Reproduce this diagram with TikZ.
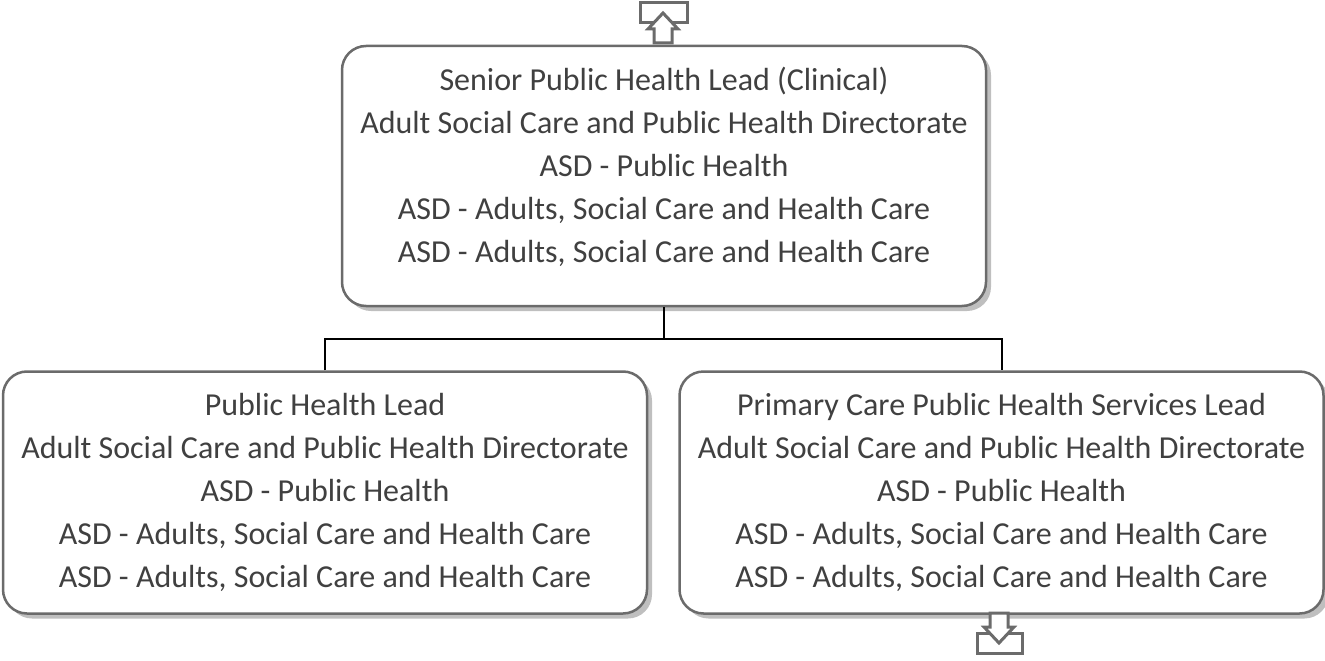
\documentclass[tikz,border=0pt]{standalone}
\usepackage{fontspec}
\setmainfont{Carlito}
\usepackage{tikz}
\usetikzlibrary{positioning}
\usetikzlibrary{calc}
\usetikzlibrary{shadows}
\definecolor{boxgray}{HTML}{6B6B6B}
\definecolor{shadowgray}{HTML}{BFBFBF}
\definecolor{textgray}{HTML}{404040}
\tikzset{orgline/.style={draw=black, line width=2pt}}
\tikzset{navicon/.style={draw=boxgray, line width=3pt, fill=white, line join=miter}}

\begin{document}
\begin{tikzpicture}[x=1pt,y=-1pt]
\tikzstyle{orgbox} = [draw=boxgray, line width=2.5pt, fill=white, rounded corners=24pt,
  minimum width=644pt, align=center, text=textgray, inner sep=0pt,
  font=\fontsize{32}{43}\selectfont,
  drop shadow={shadow xshift=5pt, shadow yshift=-5pt, fill=shadowgray, opacity=1}]

\useasboundingbox (0,0) rectangle (1325,661);

\node[orgbox, minimum height=260pt] (senior) at (664,176)
  {Senior Public Health Lead (Clinical)\\
   Adult Social Care and Public Health Directorate\\
   ASD - Public Health\\
   ASD - Adults, Social Care and Health Care\\
   ASD - Adults, Social Care and Health Care\\[-21pt]\mbox{}};

\node[orgbox, minimum height=242pt] (phlead) [below=63pt of senior.south, xshift=-339pt, anchor=north]
  {Public Health Lead\\
   Adult Social Care and Public Health Directorate\\
   ASD - Public Health\\
   ASD - Adults, Social Care and Health Care\\
   ASD - Adults, Social Care and Health Care};

\node[orgbox, minimum height=242pt] (pclead) [right=30pt of phlead]
  {Primary Care Public Health Services Lead\\
   Adult Social Care and Public Health Directorate\\
   ASD - Public Health\\
   ASD - Adults, Social Care and Health Care\\
   ASD - Adults, Social Care and Health Care};

% reporting lines
\coordinate (split) at ($(senior.south)!0.5!(senior.south |- phlead.north)$);
\draw[orgline] (senior.south) -- (split);
\draw[orgline] (phlead.north) |- (split) -| (pclead.north);

% navigation icons
\draw[navicon] (640,3) rectangle (687,23);
\draw[navicon] (663,13) -- (678,29) -- (672,29) -- (672,43) -- (654,43) -- (654,29) -- (648,29) -- cycle;
\draw[navicon] (977,633) rectangle (1022,653);
\draw[navicon] (999,643) -- (1014,627) -- (1008,627) -- (1008,613) -- (990,613) -- (990,627) -- (984,627) -- cycle;
\end{tikzpicture}
\end{document}
